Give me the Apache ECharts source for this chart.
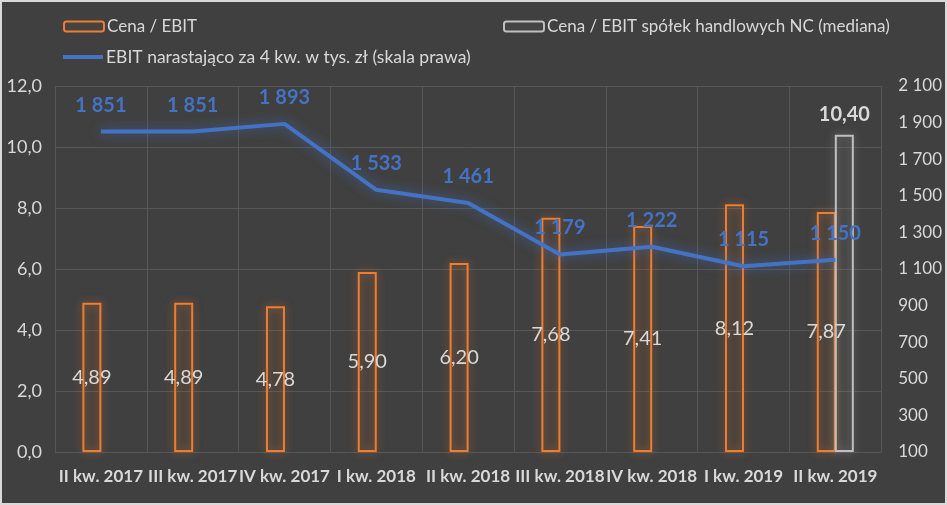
<!DOCTYPE html>
<html><head><meta charset="utf-8">
<script src="https://cdn.jsdelivr.net/npm/echarts@6/dist/echarts.min.js"></script>
<style>
html,body{margin:0;padding:0;background:#d9d9d9;}
#c{width:943px;height:501px;margin:2px;background:#404040;}
</style></head>
<body><div id="c"></div>
<script>
const categories = ['II kw. 2017','III kw. 2017','IV kw. 2017','I kw. 2018','II kw. 2018','III kw. 2018','IV kw. 2018','I kw. 2019','II kw. 2019'];
const cenaEbit = [4.89, 4.89, 4.78, 5.90, 6.20, 7.68, 7.41, 8.12, 7.87];
const medianaNC = [null, null, null, null, null, null, null, null, 10.40];
const ebit4q = [1851, 1851, 1893, 1533, 1461, 1179, 1222, 1115, 1150];
const leftTicks = {min: 0, max: 12, interval: 2};
const rightTicks = {min: 100, max: 2100, interval: 200};

const FONT = 'Lato, "Open Sans", sans-serif';
const fmtComma = (v, d) => v.toFixed(d).replace('.', ',');
const fmtThousands = v => String(Math.round(v)).replace(/\B(?=(\d{3})+(?!\d))/g, ' ');

const chart = echarts.init(document.getElementById('c'));
chart.setOption({
  backgroundColor: '#404040',
  animation: false,
  textStyle: {fontFamily: FONT},
  legend: [
    {data: ['Cena / EBIT'], left: 56, top: 11, itemWidth: 40, itemHeight: 10,
     textStyle: {color: '#d9d9d9', fontSize: 17, fontFamily: FONT, padding: [0, 0, 0, -2]}},
    {data: ['Cena / EBIT spółek handlowych NC (mediana)'], left: 496, top: 11, itemWidth: 40, itemHeight: 10,
     textStyle: {color: '#d9d9d9', fontSize: 17, fontFamily: FONT, padding: [0, 0, 0, -2]}},
    {data: [{name: 'EBIT narastająco za 4 kw. w tys. zł (skala prawa)', icon: 'rect', itemStyle: {color: '#4472c4', borderWidth: 0}}],
     left: 56, top: 41, itemWidth: 40, itemHeight: 4,
     textStyle: {color: '#d9d9d9', fontSize: 17.5, fontFamily: FONT, padding: [0, 0, 0, -2]}}
  ],
  grid: {left: 53, right: 63, top: 84, bottom: 51, containLabel: false},
  xAxis: {
    type: 'category', data: categories,
    axisLine: {show: false}, axisTick: {show: false},
    splitLine: {show: true, lineStyle: {color: '#575757', width: 1}},
    axisLabel: {color: '#d9d9d9', fontSize: 17, fontWeight: 'bold', margin: 16, interval: 0, fontFamily: FONT}
  },
  yAxis: [
    {type: 'value', min: leftTicks.min, max: leftTicks.max, interval: leftTicks.interval,
     axisLine: {show: false}, axisTick: {show: false},
     splitLine: {lineStyle: {color: '#575757', width: 1}},
     axisLabel: {color: '#d9d9d9', fontSize: 18, margin: 13, formatter: v => fmtComma(v, 1)}},
    {type: 'value', min: rightTicks.min, max: rightTicks.max, interval: rightTicks.interval,
     axisLine: {show: false}, axisTick: {show: false}, splitLine: {show: false},
     axisLabel: {color: '#d9d9d9', fontSize: 17, margin: 17, formatter: v => fmtThousands(v)}}
  ],
  series: [
    {name: 'Cena / EBIT', type: 'bar', data: cenaEbit, barWidth: 19, barGap: '-5%', z: 2,
     itemStyle: {color: 'rgba(237,125,49,0.04)', borderColor: '#ed7d31', borderWidth: 2,
                 shadowBlur: 8, shadowColor: 'rgba(237,125,49,0.6)'},
     label: {show: true, position: 'inside', color: '#d9d9d9', fontSize: 20, fontFamily: FONT,
             formatter: p => fmtComma(p.value, 2)}},
    {name: 'Cena / EBIT spółek handlowych NC (mediana)', type: 'bar', data: medianaNC, barWidth: 19, z: 2,
     itemStyle: {color: 'rgba(191,191,191,0.04)', borderColor: '#bfbfbf', borderWidth: 2,
                 shadowBlur: 8, shadowColor: 'rgba(191,191,191,0.5)'},
     label: {show: true, position: 'top', distance: 10, color: '#d9d9d9', fontSize: 20, fontWeight: 'bold', fontFamily: FONT,
             formatter: p => fmtComma(p.value, 2)}},
    {name: 'EBIT narastająco za 4 kw. w tys. zł (skala prawa)', type: 'line', yAxisIndex: 1, data: ebit4q,
     showSymbol: true, symbol: 'circle', symbolSize: 1, z: 3,
     lineStyle: {color: '#4472c4', width: 4, shadowBlur: 12, shadowColor: 'rgba(68,114,196,0.7)'},
     itemStyle: {color: 'rgba(68,114,196,0)', borderWidth: 0},
     label: {show: true, position: 'top', distance: 16, color: '#4472c4', fontSize: 20, fontWeight: 'bold', fontFamily: FONT,
             formatter: p => fmtThousands(p.value)}}
  ]
});
</script></body></html>
